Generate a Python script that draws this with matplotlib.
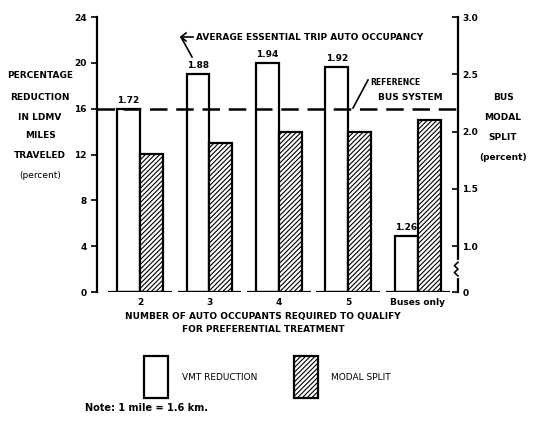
import matplotlib
matplotlib.use('Agg')
import matplotlib.pyplot as plt
from matplotlib.lines import Line2D
from matplotlib.patches import Rectangle

groups = ['2', '3', '4', '5', 'Buses only']
vmt_reduction = [16.0, 19.0, 20.0, 19.6, 4.9]          # percent, left axis
modal_split = [1.8, 1.9, 2.0, 2.0, 2.1]                # percent, right axis
occupancy = ['1.72', '1.88', '1.94', '1.92', '1.26']
reference_split = 2.2
right_ticks = [0.6, 1.0, 1.5, 2.0, 2.5, 3.0]
right_labels = ['0', '1.0', '1.5', '2.0', '2.5', '3.0']

plt.rcParams['font.family'] = 'DejaVu Sans'
plt.rcParams['hatch.linewidth'] = 0.8
FS = 6.5

fig = plt.figure(figsize=(5.33, 4.23), dpi=100)
W, H = 533, 423
ax = fig.add_axes([97 / W, 1 - 292 / H, (458 - 97) / W, (292 - 17) / H])
ax2 = ax.twinx()

x = list(range(len(groups)))
bw = 0.33
ax.bar([i - bw / 2 for i in x], vmt_reduction, width=bw, color='white',
       edgecolor='black', lw=1.6, zorder=2)
ax2.bar([i + bw / 2 for i in x], [v - right_ticks[0] for v in modal_split],
        bottom=right_ticks[0], width=bw, color='white', edgecolor='black',
        hatch='///////', lw=1.6, zorder=2)
ax2.axhline(reference_split, color='black', lw=1.8, dashes=(7, 3.5), zorder=5)
ax.hlines([0] * len(x), [i - 0.46 for i in x], [i + 0.46 for i in x],
          color='black', lw=1.6)

for i, v, t in zip(x, vmt_reduction, occupancy):
    ax.text(i - bw / 2, v + 0.35, t, ha='center', va='bottom', fontsize=FS,
            fontweight='bold')

ax.set_xlim(-0.62, 4.58)
ax.set_ylim(0, 24)
ax.set_yticks(range(0, 25, 4))
ax.set_xticks(x)
ax.set_xticklabels(groups, fontsize=FS, fontweight='bold')
ax.tick_params(axis='x', length=0, pad=4)
ax.tick_params(axis='y', labelsize=FS, width=1.2, length=4, direction='out')
for s in ['top', 'bottom', 'right']:
    ax.spines[s].set_visible(False)
ax.spines['left'].set_linewidth(1.6)

ax2.set_ylim(right_ticks[0], 3.0)
ax2.set_yticks(right_ticks)
ax2.set_yticklabels(right_labels, fontsize=FS, fontweight='bold')
ax2.tick_params(axis='y', width=1.2, length=4, direction='in', pad=3)
for s in ['top', 'bottom', 'left']:
    ax2.spines[s].set_visible(False)
ax2.spines['right'].set_linewidth(1.6)
for lab in ax.get_yticklabels():
    lab.set_fontweight('bold')

# axis break on right spine
ax2.plot([1.0, 1.0], [0.74, 0.86], transform=ax2.get_yaxis_transform(),
         color='white', lw=3, clip_on=False, zorder=6)
ax2.plot([1.0, 0.99, 1.0, 0.99, 1.0], [0.74, 0.77, 0.80, 0.83, 0.86],
         transform=ax2.get_yaxis_transform(), color='black', lw=1.2,
         clip_on=False, zorder=7)


def ft(px, py, s, **kw):
    fig.text(px / W, 1 - py / H, s, **kw)


for py, s in zip([76, 97, 117, 136, 156, 175],
                 ['PERCENTAGE', 'REDUCTION', 'IN LDMV', 'MILES', 'TRAVELED', '(percent)']):
    ft(40, py, s, ha='center', va='center', fontsize=FS,
       fontweight='bold' if s != '(percent)' else 'normal')
for py, s in zip([97, 117, 137, 157], ['BUS', 'MODAL', 'SPLIT', '(percent)']):
    ft(503, py, s, ha='center', va='center', fontsize=FS, fontweight='bold')

ft(196, 37, 'AVERAGE ESSENTIAL TRIP AUTO OCCUPANCY', ha='left', va='center',
   fontsize=FS, fontweight='bold')
fig.add_artist(Line2D([193 / W, 181 / W, 192 / W],
                      [1 - 37 / H, 1 - 37 / H, 1 - 57 / H], color='black', lw=1.2))
fig.add_artist(Line2D([186 / W, 181 / W, 186 / W],
                      [1 - 33 / H, 1 - 37 / H, 1 - 41 / H], color='black', lw=1.2))
ft(370, 82, 'REFERENCE', ha='left', va='center', fontsize=5.5, fontweight='bold')
ft(378, 97, 'BUS SYSTEM', ha='left', va='center', fontsize=FS, fontweight='bold')
fig.add_artist(Line2D([368 / W, 353 / W], [1 - 80 / H, 1 - 108 / H],
                      color='black', lw=1.2))

ft(263, 323, 'NUMBER OF AUTO OCCUPANTS REQUIRED TO QUALIFY\nFOR PREFERENTIAL TREATMENT',
   ha='center', va='center', fontsize=FS, fontweight='bold', linespacing=1.5)

# legend drawn by hand: tall boxes as in the original
fig.add_artist(Rectangle((144 / W, 1 - 398 / H), 24 / W, 42 / H,
                         facecolor='white', edgecolor='black', lw=1.6))
fig.add_artist(Rectangle((294 / W, 1 - 398 / H), 24 / W, 42 / H,
                         facecolor='white', edgecolor='black', lw=1.6,
                         hatch='///////'))
ft(182, 377, 'VMT REDUCTION', ha='left', va='center', fontsize=FS)
ft(331, 377, 'MODAL SPLIT', ha='left', va='center', fontsize=FS)

ft(85, 408, 'Note: 1 mile = 1.6 km.', ha='left', va='center', fontsize=7,
   fontweight='bold')

fig.savefig('out.png', dpi=100)
